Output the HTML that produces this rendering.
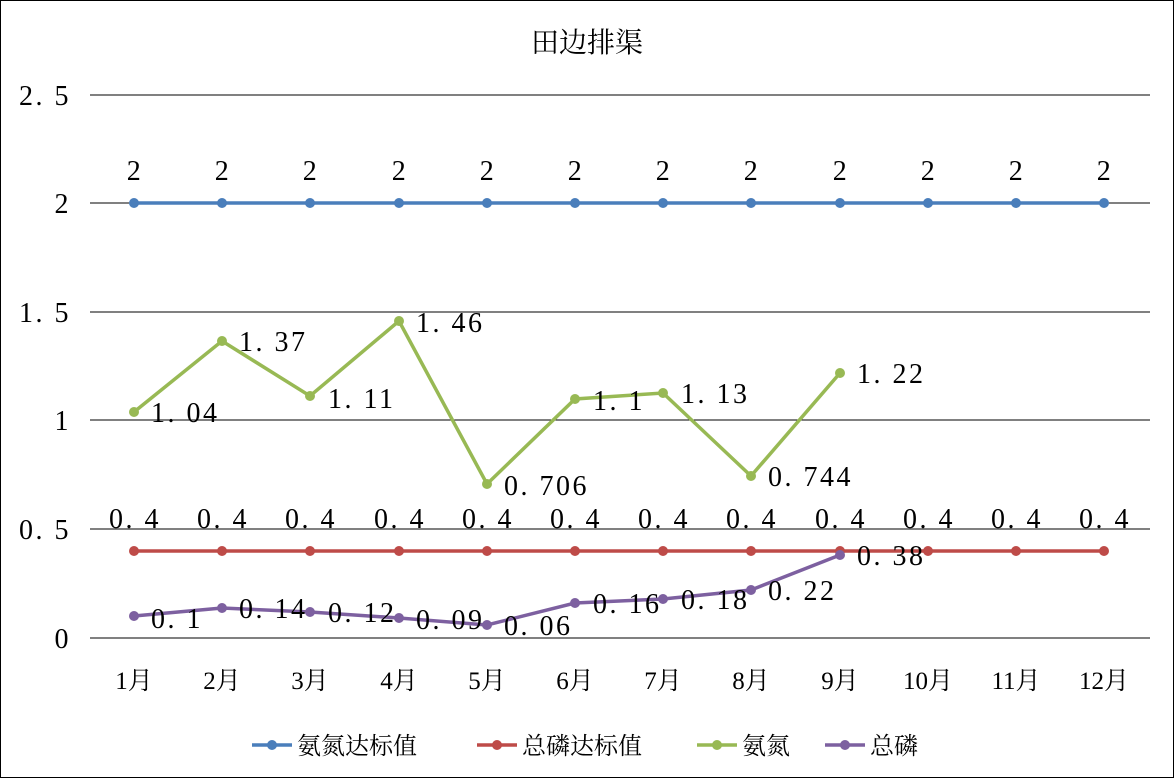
<!DOCTYPE html>
<html><head><meta charset="utf-8"><style>
html,body{margin:0;padding:0;background:#fff}
svg{display:block}
text{font-family:"Liberation Serif","Noto Serif CJK SC",serif;fill:#000}
.n{font-size:28px;letter-spacing:2.5px}
</style></head><body>
<svg width="1174" height="778" viewBox="0 0 1174 778" xmlns="http://www.w3.org/2000/svg">
<rect x="0.5" y="0.5" width="1173" height="777" fill="#fff" stroke="#000" stroke-width="1"/>
<text x="587" y="52" font-size="28" text-anchor="middle">田边排渠</text>
<g stroke="#000" stroke-width="1">
<line x1="90" y1="95" x2="1150" y2="95"/>
<line x1="90" y1="203" x2="1150" y2="203"/>
<line x1="90" y1="312" x2="1150" y2="312"/>
<line x1="90" y1="420" x2="1150" y2="420"/>
<line x1="90" y1="529" x2="1150" y2="529"/>
<line x1="90" y1="638" x2="1150" y2="638"/>
</g>
<g class="n" text-anchor="end">
<text x="71" y="105">2. 5</text>
<text x="71" y="213">2</text>
<text x="71" y="322">1. 5</text>
<text x="71" y="430">1</text>
<text x="71" y="539">0. 5</text>
<text x="71" y="648">0</text>
</g>
<g font-size="25" text-anchor="middle">
<text x="134" y="689">1月</text><text x="222" y="689">2月</text><text x="310" y="689">3月</text>
<text x="399" y="689">4月</text><text x="487" y="689">5月</text><text x="575" y="689">6月</text>
<text x="663" y="689">7月</text><text x="751" y="689">8月</text><text x="840" y="689">9月</text>
<text x="928" y="689">10月</text><text x="1016" y="689">11月</text><text x="1104" y="689">12月</text>
</g>
<polyline fill="none" stroke="#4a7ebb" stroke-width="3.5" points="134,203 1104,203"/>
<g fill="#4a7ebb">
<circle cx="134" cy="203" r="5"/><circle cx="222" cy="203" r="5"/><circle cx="310" cy="203" r="5"/><circle cx="399" cy="203" r="5"/><circle cx="487" cy="203" r="5"/><circle cx="575" cy="203" r="5"/><circle cx="663" cy="203" r="5"/><circle cx="751" cy="203" r="5"/><circle cx="840" cy="203" r="5"/><circle cx="928" cy="203" r="5"/><circle cx="1016" cy="203" r="5"/><circle cx="1104" cy="203" r="5"/>
</g>
<g class="n" text-anchor="middle">
<text x="135" y="180">2</text><text x="223" y="180">2</text><text x="311" y="180">2</text><text x="400" y="180">2</text><text x="488" y="180">2</text><text x="576" y="180">2</text><text x="664" y="180">2</text><text x="752" y="180">2</text><text x="841" y="180">2</text><text x="929" y="180">2</text><text x="1017" y="180">2</text><text x="1105" y="180">2</text>
</g>
<polyline fill="none" stroke="#be4b48" stroke-width="3.5" points="134,551 1104,551"/>
<g fill="#be4b48">
<circle cx="134" cy="551" r="5"/><circle cx="222" cy="551" r="5"/><circle cx="310" cy="551" r="5"/><circle cx="399" cy="551" r="5"/><circle cx="487" cy="551" r="5"/><circle cx="575" cy="551" r="5"/><circle cx="663" cy="551" r="5"/><circle cx="751" cy="551" r="5"/><circle cx="840" cy="551" r="5"/><circle cx="928" cy="551" r="5"/><circle cx="1016" cy="551" r="5"/><circle cx="1104" cy="551" r="5"/>
</g>
<g class="n" text-anchor="middle">
<text x="135" y="528">0. 4</text><text x="223" y="528">0. 4</text><text x="311" y="528">0. 4</text><text x="400" y="528">0. 4</text><text x="488" y="528">0. 4</text><text x="576" y="528">0. 4</text><text x="664" y="528">0. 4</text><text x="752" y="528">0. 4</text><text x="841" y="528">0. 4</text><text x="929" y="528">0. 4</text><text x="1017" y="528">0. 4</text><text x="1105" y="528">0. 4</text>
</g>
<polyline fill="none" stroke="#98b954" stroke-width="3.5" points="134,412 222,341 310,396 399,321 487,484 575,399 663,393 751,476 840,373"/>
<g fill="#98b954">
<circle cx="134" cy="412" r="5"/><circle cx="222" cy="341" r="5"/><circle cx="310" cy="396" r="5"/><circle cx="399" cy="321" r="5"/><circle cx="487" cy="484" r="5"/><circle cx="575" cy="399" r="5"/><circle cx="663" cy="393" r="5"/><circle cx="751" cy="476" r="5"/><circle cx="840" cy="373" r="5"/>
</g>
<g class="n">
<text x="151" y="422">1. 04</text><text x="239" y="351">1. 37</text><text x="328" y="408">1. 11</text><text x="416" y="332">1. 46</text><text x="504" y="495">0. 706</text><text x="593" y="410">1. 1</text><text x="681" y="403">1. 13</text><text x="768" y="486">0. 744</text><text x="857" y="383">1. 22</text>
</g>
<polyline fill="none" stroke="#7d60a0" stroke-width="3.5" points="134,616 222,608 310,612 399,618 487,625 575,603 663,599 751,590 840,555"/>
<g fill="#7d60a0">
<circle cx="134" cy="616" r="5"/><circle cx="222" cy="608" r="5"/><circle cx="310" cy="612" r="5"/><circle cx="399" cy="618" r="5"/><circle cx="487" cy="625" r="5"/><circle cx="575" cy="603" r="5"/><circle cx="663" cy="599" r="5"/><circle cx="751" cy="590" r="5"/><circle cx="840" cy="555" r="5"/>
</g>
<g class="n">
<text x="151" y="628">0. 1</text><text x="239" y="618">0. 14</text><text x="328" y="622">0. 12</text><text x="416" y="629">0. 09</text><text x="504" y="635">0. 06</text><text x="593" y="613">0. 16</text><text x="681" y="609">0. 18</text><text x="768" y="600">0. 22</text><text x="857" y="565">0. 38</text>
</g>
<g stroke-width="3.5">
<line x1="252" y1="745" x2="292" y2="745" stroke="#4a7ebb"/>
<line x1="477" y1="745" x2="517" y2="745" stroke="#be4b48"/>
<line x1="697" y1="745" x2="737" y2="745" stroke="#98b954"/>
<line x1="825" y1="745" x2="865" y2="745" stroke="#7d60a0"/>
</g>
<circle cx="272" cy="745" r="5" fill="#4a7ebb"/>
<circle cx="497" cy="745" r="5" fill="#be4b48"/>
<circle cx="717" cy="745" r="5" fill="#98b954"/>
<circle cx="845" cy="745" r="5" fill="#7d60a0"/>
<g font-size="24">
<text x="297" y="754">氨氮达标值</text>
<text x="522" y="754">总磷达标值</text>
<text x="742" y="754">氨氮</text>
<text x="870" y="754">总磷</text>
</g>
</svg>
</body></html>
